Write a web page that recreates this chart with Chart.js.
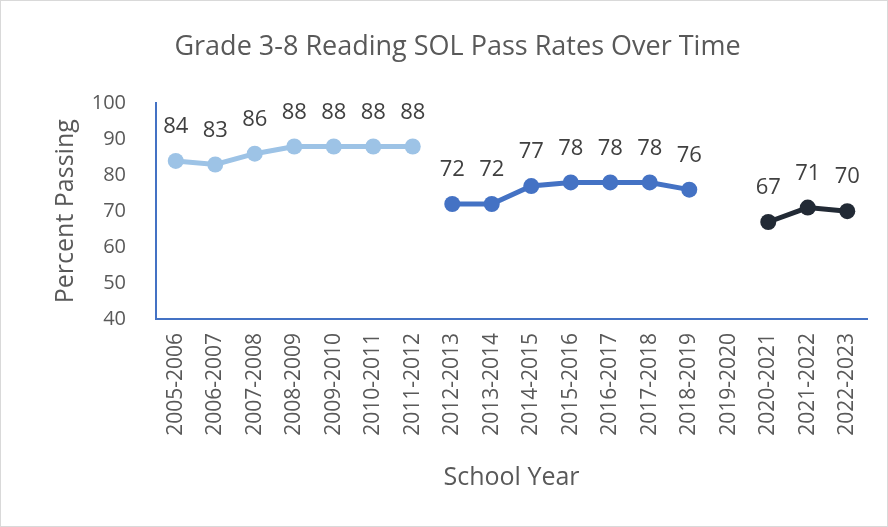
<!DOCTYPE html>
<html>
<head>
<meta charset="utf-8">
<script src="https://cdn.jsdelivr.net/npm/chart.js@4.4.1/dist/chart.umd.min.js"></script>
<style>
  html, body { margin: 0; padding: 0; background: #fff; }
  #wrap { width: 886px; height: 525px; border: 1px solid #d9d9d9; }
</style>
</head>
<body>
<div id="wrap"><canvas id="myChart"></canvas></div>
<script>
var years = ["2005-2006", "2006-2007", "2007-2008", "2008-2009", "2009-2010", "2010-2011", "2011-2012",
    "2012-2013", "2013-2014", "2014-2015", "2015-2016", "2016-2017", "2017-2018", "2018-2019",
    "2019-2020", "2020-2021", "2021-2022", "2022-2023"];
var early = [84, 83, 86, 88, 88, 88, 88, null, null, null, null, null, null, null, null, null, null, null];
var middle = [null, null, null, null, null, null, null, 72, 72, 77, 78, 78, 78, 76, null, null, null, null];
var recent = [null, null, null, null, null, null, null, null, null, null, null, null, null, null, null, 67, 71, 70];
var yTicks = [40, 50, 60, 70, 80, 90, 100];

var FONT = "'Open Sans', sans-serif";
var GREY = '#595959';

// draws value labels above each point
var pointLabels = {
    id: 'pointLabels',
    afterDatasetsDraw: function (chart) {
        var c = chart.ctx;
        c.save();
        c.font = '22px ' + FONT;
        c.fillStyle = '#404040';
        c.textAlign = 'center';
        c.textBaseline = 'middle';
        chart.data.datasets.forEach(function (ds, i) {
            chart.getDatasetMeta(i).data.forEach(function (pt, j) {
                if (ds.data[j] == null) return;
                c.fillText(ds.data[j], pt.x, pt.y - 34);
            });
        });
        c.restore();
    }
};

function series(label, data, color) {
    return {
        label: label,
        data: data,
        borderColor: color,
        backgroundColor: color,
        borderWidth: 5,
        pointRadius: 8,
        pointHoverRadius: 8,
        pointBorderWidth: 0,
        spanGaps: false,
        fill: false,
        tension: 0
    };
}

var ctx = document.getElementById("myChart");
var myChart = new Chart(ctx, {
    type: 'line',
    data: {
        labels: years,
        datasets: [
            series('Early', early, '#9dc3e6'),
            series('Middle', middle, '#4472c4'),
            series('Recent', recent, '#222a35')
        ]
    },
    plugins: [pointLabels],
    options: {
        responsive: true,
        maintainAspectRatio: false,
        animation: false,
        layout: { padding: { top: 20, left: 46, right: 19, bottom: 29 } },
        plugins: {
            legend: { display: false },
            tooltip: { enabled: false },
            title: {
                display: true,
                text: 'Grade 3-8 Reading SOL Pass Rates Over Time',
                color: GREY,
                font: { family: FONT, size: 27, weight: 'normal' },
                padding: { top: 10, bottom: 40 }
            }
        },
        scales: {
            x: {
                offset: true,
                grid: { display: false, drawTicks: false },
                border: { display: true, color: '#4472c4', width: 2 },
                ticks: { color: GREY, font: { family: FONT, size: 21 }, minRotation: 90, maxRotation: 90, padding: 14, autoSkip: false },
                title: { display: true, text: 'School Year', color: GREY, font: { family: FONT, size: 25 }, padding: { top: 4, bottom: 4 } },
                afterFit: function (s) { s.height = 178; }
            },
            y: {
                min: 40,
                max: 100,
                afterBuildTicks: function (s) { s.ticks = yTicks.map(function (v) { return { value: v }; }); },
                grid: { display: false, drawTicks: false },
                border: { display: true, color: '#4472c4', width: 2 },
                ticks: { color: GREY, font: { family: FONT, size: 20 }, padding: 30 },
                title: { display: true, text: 'Percent Passing', color: GREY, font: { family: FONT, size: 25 }, padding: { top: 4, bottom: 4 } },
                afterFit: function (s) { s.width = 109; }
            }
        }
    }
});
</script>
</body>
</html>
